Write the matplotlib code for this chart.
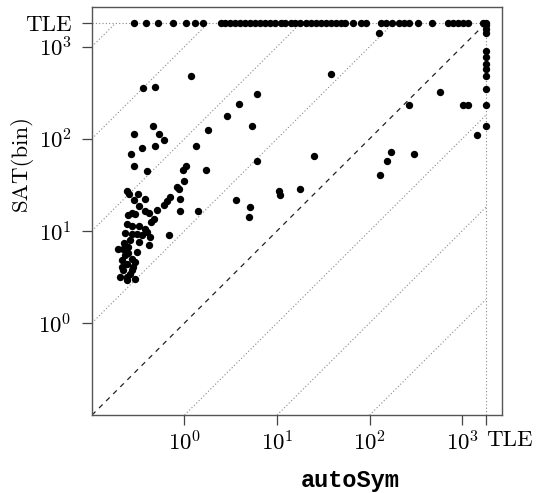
import numpy as np
import matplotlib
matplotlib.use("Agg")
import matplotlib.pyplot as plt

plt.rcParams['mathtext.fontset'] = 'cm'
plt.rcParams['font.family'] = 'serif'
plt.rcParams['font.serif'] = ['cmr10', 'DejaVu Serif']
plt.rcParams['axes.formatter.use_mathtext'] = True

TLE = 1800
lo, hi = 0.1, 2700

# instances solved by both (autoSym time, SAT(bin) time)
auto_x = [126, 38.6, 581, 269, 25.0, 171, 155, 301, 129, 17.5, 10.4, 10.8,
          1430, 1008, 1170, 1.19, 0.355, 0.484, 6.0, 3.89, 2.90, 5.30, 1.79,
          0.456, 0.288, 0.535, 0.607, 0.346, 0.484, 0.265, 1.34, 6.0, 3.58,
          5.13, 5.0, 1.41, 1.04, 1.69, 0.288, 0.392, 0.966, 0.98, 0.83, 0.88,
          0.705, 0.647, 0.596, 0.504, 0.464, 0.438, 0.377, 0.417, 0.377,
          0.313, 0.238, 0.252, 0.288, 0.319, 0.905, 0.905, 0.293, 0.248,
          0.269, 0.238, 0.377, 0.229, 0.269, 0.305, 0.346, 0.687, 0.427,
          0.259, 0.319, 0.193, 0.219, 0.248, 0.409, 0.305, 0.229, 0.269,
          0.238, 0.293, 0.210, 0.219, 0.269, 0.201, 0.238, 0.293, 0.259,
          0.210, 0.281, 0.238, 0.248, 0.224, 0.319, 0.273, 0.392]
sat_y = [1400, 504, 318, 234, 64.5, 71.3, 57.9, 67.8, 40.8, 28.6, 26.9, 24.6,
         111, 234, 234, 486, 355, 361, 303, 236, 177, 138, 123,
         139, 112, 112, 97, 80, 83.5, 69, 84, 57, 21.9,
         18.1, 14.3, 16.6, 50.7, 45.9, 50.7, 45.1, 45.9, 34.5, 29.7, 28.6,
         23.6, 21.3, 19.3, 16.9, 13.5, 12.4, 16.3, 15.6, 22.3,
         25.2, 27.4, 25.2, 21.7, 18.4, 22.3, 16.3, 15.3, 14.7,
         15.6, 11.9, 10.5, 9.44, 9.3, 9.14, 8.91, 8.91, 8.55,
         7.87, 7.55, 6.29, 6.40, 6.66, 6.95, 5.88, 5.41, 4.99,
         4.40, 4.58, 4.78, 3.72, 3.72, 3.15, 3.15, 3.03, 3.43,
         4.04, 4.04, 2.90, 5.69, 7.30, 11.2, 11.2, 9.68]

# SAT(bin) timed out
sat_tle_x = [0.286, 0.383, 0.52, 0.746, 1.03, 1.30, 1.58, 2.46, 2.74, 3.10,
             3.52, 3.99, 4.52, 5.13, 5.81, 6.58, 7.46, 8.45, 9.59, 10.9, 12.3,
             14.0, 15.8, 17.9, 20.3, 23.0, 26.1, 29.6, 33.5, 37.9, 43.0, 48.7,
             53.9, 65.9, 80.4, 91.2, 133, 150, 175, 208, 236, 267, 335, 475,
             710, 804, 912, 1033, 1170, 1662]
# autoSym timed out
auto_tle_y = [1722, 1560, 1412, 901, 776, 652, 575, 483, 349, 234, 136]
# both timed out
n_both_tle = 1

fig = plt.figure(figsize=(5.44, 4.93), dpi=100)
ax = fig.add_axes([0.169, 0.158, 0.754, 0.828])
ax.set_xscale('log')
ax.set_yscale('log')

# reference diagonals
for k in range(-3, 5):
    f = 10.0 ** k
    x0 = max(lo, lo / f)
    x1 = min(TLE, TLE / f)
    if x1 <= x0:
        continue
    if k == 0:
        ax.plot([x0, x1], [x0 * f, x1 * f], color='#222222', ls=(0, (4, 4)), lw=0.9, zorder=1)
    else:
        ax.plot([x0, x1], [x0 * f, x1 * f], color='#888888', ls=(0, (1, 2)), lw=0.8, zorder=1)
ax.plot([lo, TLE], [TLE, TLE], color='#888888', ls=(0, (1, 2)), lw=0.8, zorder=1)
ax.plot([TLE, TLE], [lo, TLE], color='#888888', ls=(0, (1, 2)), lw=0.8, zorder=1)

ms = 5.3
ax.plot(auto_x, sat_y, 'o', color='black', ms=ms, mew=0, zorder=3)
ax.plot(sat_tle_x, [TLE] * len(sat_tle_x), 'o', color='black', ms=ms, mew=0, zorder=3)
ax.plot([TLE] * len(auto_tle_y), auto_tle_y, 'o', color='black', ms=ms, mew=0, zorder=3)
ax.plot([TLE] * n_both_tle, [TLE] * n_both_tle, 'o', color='black', ms=ms, mew=0, zorder=3)

ax.set_xlim(lo, hi)
ax.set_ylim(lo, hi)

ticks = [1, 10, 100, 1000, TLE]
labels = [r'$10^{0}$', r'$10^{1}$', r'$10^{2}$', r'$10^{3}$', 'TLE']
ax.set_xticks(ticks, labels)
ax.set_yticks(ticks, labels)
ax.minorticks_off()
ax.get_xticklabels()[-1].set_ha('left')

ax.tick_params(axis='both', direction='out', length=7.5, width=0.9, color='#444444',
               labelsize=16.5)
ax.tick_params(axis='x', pad=3.5)
ax.tick_params(axis='y', pad=7)
for s in ax.spines.values():
    s.set_color('#555555')
    s.set_linewidth(1.0)

ax.set_ylabel('SAT(bin)', fontsize=16.5)
ax.yaxis.set_label_coords(-0.144, 0.618)
ax.set_xlabel('autoSym', fontsize=17, family='Liberation Mono', weight='bold')
ax.xaxis.set_label_coords(0.629, -0.132)

fig.savefig('out.png', dpi=100)
